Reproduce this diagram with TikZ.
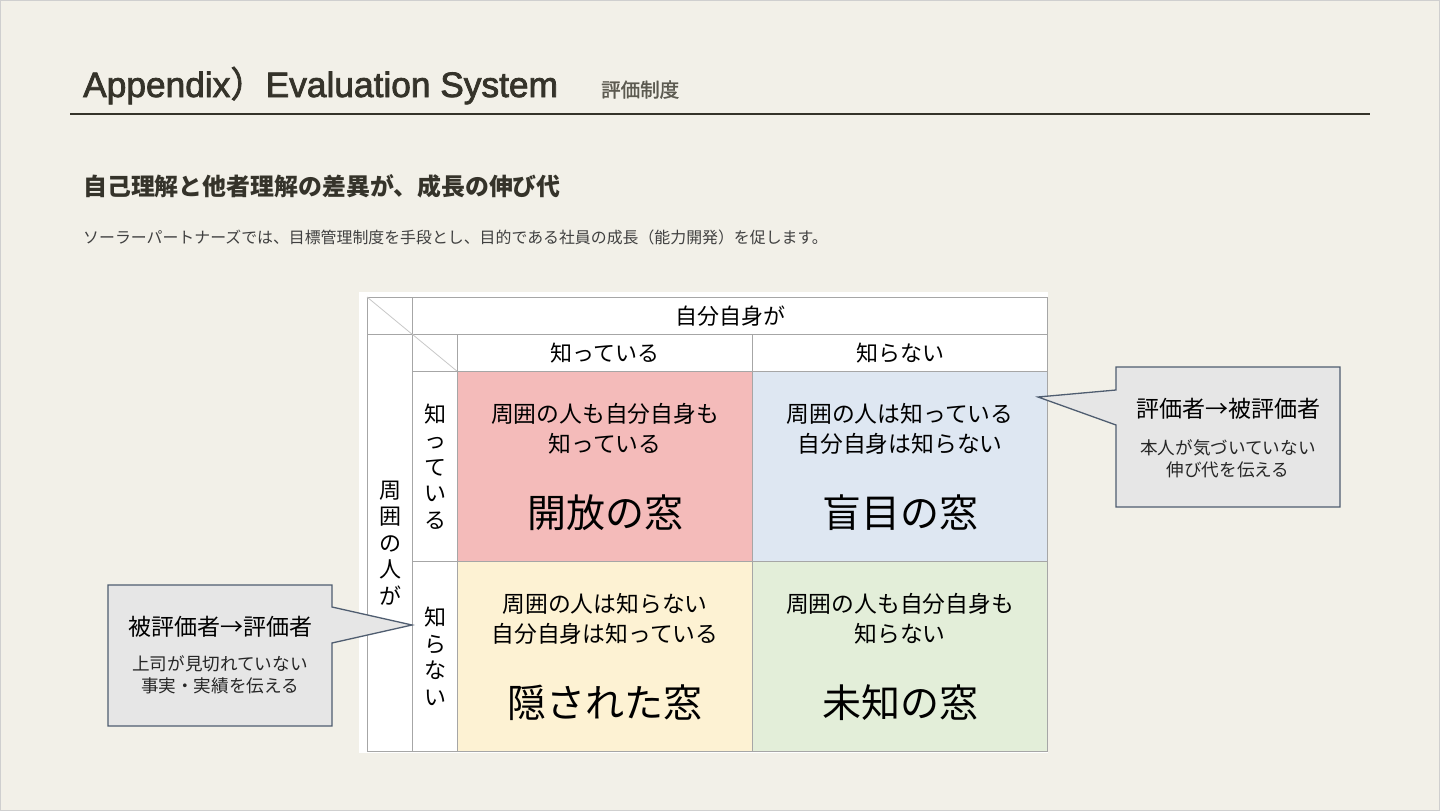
\documentclass[tikz,border=0pt]{standalone}
\usepackage{fontspec}
\setmainfont{Noto Sans CJK JP}
\newfontfamily\jp{Noto Sans CJK JP}
\newfontfamily\jpmed[FakeBold=1.5]{Noto Sans CJK JP}
\newfontfamily\jptit[FakeBold=2.2]{Noto Sans CJK JP}
\newfontfamily\lat[FakeBold=2.2]{Liberation Sans}
\definecolor{bgc}{HTML}{F2F0E8}
\definecolor{framec}{HTML}{CFCFCF}
\definecolor{titlec}{HTML}{35332A}
\definecolor{subc}{HTML}{5C5A50}
\definecolor{bodyc}{HTML}{404040}
\definecolor{gridc}{HTML}{A6A6A6}
\definecolor{diagc}{HTML}{C8C8C8}
\definecolor{pinkc}{HTML}{F4BBBA}
\definecolor{bluec}{HTML}{DEE7F2}
\definecolor{yellowc}{HTML}{FDF2D3}
\definecolor{greenc}{HTML}{E3EED9}
\definecolor{callf}{HTML}{E6E6E6}
\definecolor{callb}{HTML}{4F5D70}
\begin{document}
\begin{tikzpicture}[x=1pt,y=-1pt,
  grid/.style={draw=gridc, line width=1pt},
  cell/.style={grid, anchor=north west, inner sep=0pt},
  diag/.style={draw=diagc, line width=0.8pt},
  hdr/.style={font=\fontsize{22}{26}\selectfont, text=black},
  desc/.style={font=\fontsize{22.8}{30}\selectfont, align=center, text=black},
  big/.style={font=\fontsize{39}{40}\selectfont, text=black},
  vert/.style={font=\fontsize{22}{26.5}\selectfont, align=center, text=black},
  callout/.style={draw=callb, fill=callf, line width=1.3pt, line join=miter},
  ctitle/.style={font=\fontsize{23}{26}\selectfont, text=black},
  ctext/.style={font=\fontsize{17.6}{22}\selectfont, align=center, text=black!85},
]
\useasboundingbox (0,0) rectangle (1440,811);
\fill[bgc] (0,0) rectangle (1440,811);
\draw[framec, line width=1pt] (0.5,0.5) rectangle (1439.5,810.5);

% title
\node[anchor=base west, inner sep=0pt, text=titlec, font=\lat\fontsize{35.3}{40}\selectfont] (title) at (83,97) {Appendix{\jptit ）}Evaluation System};
\node[anchor=base west, inner sep=0pt, text=subc, font=\jpmed\fontsize{19.5}{22}\selectfont] (sub) at (601,97) {評価制度};
\draw[titlec, line width=1.3pt] (70,114) -- (1370,114);

\node[anchor=west, inner sep=0pt, text=titlec, font=\bfseries\fontsize{23.9}{28}\selectfont] (head) at (83,186) {自己理解と他者理解の差異が、成長の伸び代};
\node[anchor=west, inner sep=0pt, text=bodyc, font=\fontsize{15.9}{20}\selectfont] (body) at (83,237) {ソーラーパートナーズでは、目標管理制度を手段とし、目的である社員の成長（能力開発）を促します。};

% table background
\fill[white] (359,292) rectangle (1048,753);

% header cells
\node[cell, minimum width=45, minimum height=37] (k1) at (367,297) {};
\draw[diag] (k1.north west) -- (k1.south east);
\node[cell, minimum width=635, minimum height=37] (top) at (412,297) {};
\node[hdr] at (top.center) {自分自身が};
\node[cell, minimum width=45, minimum height=417] (left) at (367,334) {};
\node[vert] at (left.center) {周\\囲\\の\\人\\が};
\node[cell, minimum width=45, minimum height=37] (k2) at (412,334) {};
\draw[diag] (k2.north west) -- (k2.south east);
\node[cell, minimum width=295, minimum height=37] (h1) at (457,334) {};
\node[hdr] at (h1.center) {知っている};
\node[cell, minimum width=295, minimum height=37] (h2) at (752,334) {};
\node[hdr] at (h2.center) {知らない};
\node[cell, minimum width=45, minimum height=190] (r1) at (412,371) {};
\node[vert] at (r1.center) {知\\っ\\て\\い\\る};
\node[cell, minimum width=45, minimum height=190] (r2) at (412,561) {};
\node[vert] at (r2.center) {知\\ら\\な\\い};

% quadrant cells
\node[cell, fill=pinkc, minimum width=295, minimum height=190] (c11) at (457,371) {};
\node[cell, fill=bluec, minimum width=295, minimum height=190] (c12) at (752,371) {};
\node[cell, fill=yellowc, minimum width=295, minimum height=190] (c21) at (457,561) {};
\node[cell, fill=greenc, minimum width=295, minimum height=190] (c22) at (752,561) {};

\node[desc] (d11) at ([yshift=38pt]c11.center) {周囲の人も自分自身も\\知っている};
\node[big] (b11) at ([yshift=-46pt]c11.center) {開放の窓};
\node[desc] (d12) at ([yshift=38pt]c12.center) {周囲の人は知っている\\自分自身は知らない};
\node[big] (b12) at ([yshift=-46pt]c12.center) {盲目の窓};
\node[desc] (d21) at ([yshift=38pt]c21.center) {周囲の人は知らない\\自分自身は知っている};
\node[big] (b21) at ([yshift=-46pt]c21.center) {隠された窓};
\node[desc] (d22) at ([yshift=38pt]c22.center) {周囲の人も自分自身も\\知らない};
\node[big] (b22) at ([yshift=-46pt]c22.center) {未知の窓};

% right callout
\draw[callout] (1116,367) -- (1340,367) -- (1340,507) -- (1116,507) -- (1116,425) -- (1038,397) -- (1116,390) -- cycle;
\node[ctitle] (rc1) at (1228,409) {評価者→被評価者};
\node[ctext] (rc2) at (1228,459) {本人が気づいていない\\伸び代を伝える};

% left callout
\draw[callout] (108,585) -- (332,585) -- (332,607) -- (412,625) -- (332,643) -- (332,726) -- (108,726) -- cycle;
\node[ctitle] (lc1) at (220,627) {被評価者→評価者};
\node[ctext] (lc2) at (220,675) {上司が見切れていない\\事実・実績を伝える};
\end{tikzpicture}
\end{document}
